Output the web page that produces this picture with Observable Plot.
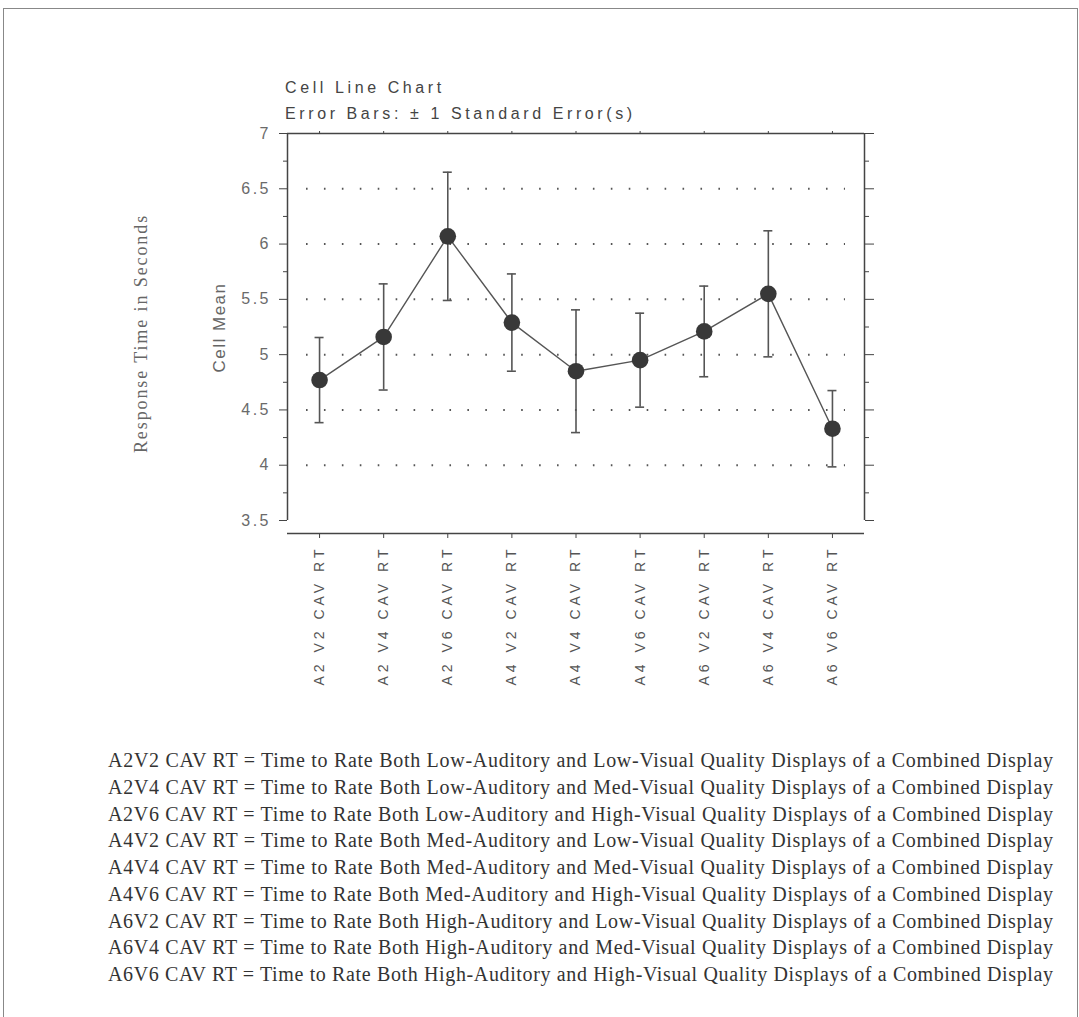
<!DOCTYPE html>
<html>
<head>
<meta charset="utf-8">
<script src="https://cdn.jsdelivr.net/npm/d3@7"></script>
<script src="https://cdn.jsdelivr.net/npm/@observablehq/plot@0.6"></script>
<style>
  html, body { margin: 0; padding: 0; background: #fff; }
  #page { position: relative; width: 1079px; height: 1017px; overflow: hidden; background: #fff; }
  #border { position: absolute; left: 3px; top: 8px; width: 1073px; height: 1030px;
            border-left: 1.5px solid #888; border-top: 1.5px solid #888; border-right: 1.5px solid #888; }
  .title { position: absolute; left: 285px; font-family: 'Liberation Sans', Arial, sans-serif;
           font-size: 16px; line-height: 16px; letter-spacing: 3.6px; color: #444; white-space: nowrap; }
  #chart { position: absolute; left: 0; top: 125px; }
  #notes { position: absolute; left: 108px; top: 747px; font-family: 'Liberation Serif', 'Times New Roman', serif;
           font-size: 20px; line-height: 26.75px; color: #333; }
  #notes div { white-space: nowrap; }
  #notes span { display: inline-block; }
  #chart g[aria-label="y-axis tick label"] text { letter-spacing: 2.5px; }
  #chart g[aria-label="x-axis tick label"] text { letter-spacing: 4px; }
</style>
</head>
<body>
<div id="page">
  <div id="border"></div>
  <div class="title" style="top:79.5px">Cell Line Chart</div>
  <div class="title" style="top:105.5px">Error Bars: ± 1 Standard Error(s)</div>
  <div id="chart"></div>
  <div id="notes"></div>
</div>
<script>
const categories = ["A2 V2 CAV RT", "A2 V4 CAV RT", "A2 V6 CAV RT", "A4 V2 CAV RT", "A4 V4 CAV RT",
                    "A4 V6 CAV RT", "A6 V2 CAV RT", "A6 V4 CAV RT", "A6 V6 CAV RT"];
const means = [4.77, 5.16, 6.07, 5.29, 4.85, 4.95, 5.21, 5.55, 4.33];
const stdErrors = [0.385, 0.48, 0.58, 0.44, 0.555, 0.425, 0.41, 0.57, 0.345];
const yTicks = [3.5, 4, 4.5, 5, 5.5, 6, 6.5, 7];
const minorTicks = [3.75, 4.25, 4.75, 5.25, 5.75, 6.25, 6.75];
const gridValues = [4, 4.5, 5, 5.5, 6, 6.5];
const yTitle = "Cell Mean";
const outerTitle = "Response Time in Seconds";
const footnotes = [
  "A2V2 CAV RT = Time to Rate Both Low-Auditory and Low-Visual Quality Displays of a Combined Display",
  "A2V4 CAV RT = Time to Rate Both Low-Auditory and Med-Visual Quality Displays of a Combined Display",
  "A2V6 CAV RT = Time to Rate Both Low-Auditory and High-Visual Quality Displays of a Combined Display",
  "A4V2 CAV RT = Time to Rate Both Med-Auditory and Low-Visual Quality Displays of a Combined Display",
  "A4V4 CAV RT = Time to Rate Both Med-Auditory and Med-Visual Quality Displays of a Combined Display",
  "A4V6 CAV RT = Time to Rate Both Med-Auditory and High-Visual Quality Displays of a Combined Display",
  "A6V2 CAV RT = Time to Rate Both High-Auditory and Low-Visual Quality Displays of a Combined Display",
  "A6V4 CAV RT = Time to Rate Both High-Auditory and Med-Visual Quality Displays of a Combined Display",
  "A6V6 CAV RT = Time to Rate Both High-Auditory and High-Visual Quality Displays of a Combined Display"
];

const data = categories.map((c, i) => ({i, c, mean: means[i], se: stdErrors[i]}));
const idx = d3.range(categories.length);
const W = 1079, H = 580;
const axisColor = "#444";

const chart = Plot.plot({
  width: W, height: H,
  marginLeft: 287, marginRight: 215, marginTop: 8, marginBottom: 172,
  style: {fontFamily: "'Liberation Sans', Arial, sans-serif", background: "transparent", color: "#444"},
  x: {type: "linear", domain: [-0.5, categories.length - 0.5]},
  y: {domain: [3.5, 7], range: [395, 8]},
  marks: [
    Plot.ruleY(gridValues, {x1: -0.5, x2: categories.length - 0.5, insetLeft: 19, insetRight: 19,
      stroke: "#555", strokeWidth: 2, strokeDasharray: "1.6,16.33"}),
    Plot.ruleX([-0.5, categories.length - 0.5], {y1: 3.5, y2: 7, stroke: axisColor, strokeWidth: 1.5}),
    Plot.ruleY([7], {x1: -0.5, x2: categories.length - 0.5, stroke: axisColor, strokeWidth: 1.5}),
    Plot.ruleY([3.5], {x1: -0.5, x2: categories.length - 0.5, dy: 13, stroke: axisColor, strokeWidth: 1.5}),
    Plot.axisY({ticks: yTicks, tickSize: 8, tickPadding: 8.5, tickFormat: d => String(d), fontSize: 16,
      stroke: axisColor, fill: "#6a6a6a", label: null}),
    Plot.axisY({ticks: minorTicks, tickSize: 4, stroke: axisColor, fill: "none", label: null}),
    Plot.axisY({anchor: "right", ticks: yTicks, tickSize: 9, stroke: axisColor, fill: "none", label: null}),
    Plot.axisY({anchor: "right", ticks: minorTicks, tickSize: 4, stroke: axisColor, fill: "none", label: null}),
    Plot.axisX({anchor: "top", ticks: idx, tickSize: 3, stroke: axisColor, fill: "none", label: null}),
    Plot.axisX({anchor: "bottom", ticks: idx, tickSize: 5, tickPadding: 7, tickFormat: i => categories[i],
      tickRotate: -90, textAnchor: "end", lineAnchor: "middle", fontSize: 14, stroke: axisColor, fill: "#555", label: null}),
    Plot.text([yTitle], {frameAnchor: "left", textAnchor: "middle", lineAnchor: "middle", dx: -68, dy: -6,
      rotate: -90, fontSize: 17, fill: "#666"}),
    Plot.text([outerTitle], {frameAnchor: "left", textAnchor: "middle", lineAnchor: "middle", dx: -146,
      rotate: -90, fontSize: 18, fontFamily: "'Liberation Serif', 'Times New Roman', serif", fill: "#666"}),
    Plot.ruleX(data, {x: "i", y1: d => d.mean - d.se, y2: d => d.mean + d.se, stroke: "#555", strokeWidth: 1.6}),
    Plot.ruleY(data, {y: d => d.mean + d.se, x1: "i", x2: "i", insetLeft: -4.5, insetRight: -4.5, stroke: "#555", strokeWidth: 1.6}),
    Plot.ruleY(data, {y: d => d.mean - d.se, x1: "i", x2: "i", insetLeft: -4.5, insetRight: -4.5, stroke: "#555", strokeWidth: 1.6}),
    Plot.line(data, {x: "i", y: "mean", stroke: "#555", strokeWidth: 1.4}),
    Plot.dot(data, {x: "i", y: "mean", r: 8.3, fill: "#383838", stroke: "none"})
  ]
});
document.getElementById("chart").appendChild(chart);

// letter spacing for the rotated titles
d3.select(chart).selectAll('g[aria-label="text"] text').each(function() {
  const t = this.textContent;
  if (t === yTitle) this.style.letterSpacing = "1.5px";
  if (t === outerTitle) this.style.letterSpacing = "1.9px";
});

// footnotes
const notes = document.getElementById("notes");
const targetWidth = 945;
footnotes.forEach(s => {
  const row = document.createElement("div");
  const span = document.createElement("span");
  span.textContent = s;
  row.appendChild(span);
  notes.appendChild(row);
  const w = span.getBoundingClientRect().width;
  span.style.letterSpacing = ((targetWidth - w) / (s.length - 1)) + "px";
});
</script>
</body>
</html>
